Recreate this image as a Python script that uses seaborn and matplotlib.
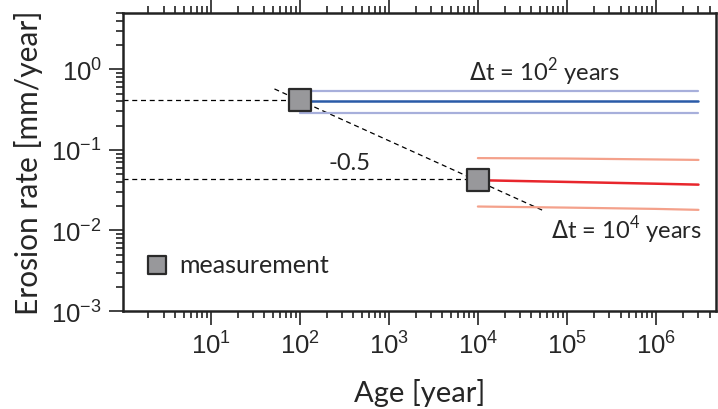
import numpy as np
import pandas as pd
import seaborn as sns
import matplotlib.pyplot as plt
from matplotlib.ticker import LogLocator, NullFormatter

# measurements
age_meas = [100, 1e4]
rate_meas = [0.41, 0.042]

# dt = 1e2 years (blue)
blue_age = [100, 3e6]
blue_mid = [0.40, 0.40]
blue_hi = [0.53, 0.53]
blue_lo = [0.29, 0.29]

# dt = 1e4 years (red)
red_age = [1e4, 1e5, 1e6, 3e6]
red_mid = [0.042, 0.040, 0.038, 0.037]
red_hi = [0.079, 0.078, 0.076, 0.075]
red_lo = [0.0198, 0.0192, 0.0185, 0.018]

# guide lines
slope_age = [52, 5.5e4]
slope_rate = [0.57, 0.0175]
hline1_age = [1.03, 100]
hline1_rate = [0.42, 0.42]
hline2_age = [1.03, 1e4]
hline2_rate = [0.043, 0.043]

sns.set_style("ticks")
plt.rcParams['font.family'] = ['Liberation Sans', 'DejaVu Sans']
plt.rcParams['axes.unicode_minus'] = False
lab_font = ['Lato', 'DejaVu Sans']

fig = plt.figure(figsize=(7.18, 4.10), dpi=100)
ax = fig.add_axes([0.171, 0.239, 0.826, 0.727])

dash = (0, (4, 3))
for xs, ys in [(hline1_age, hline1_rate), (hline2_age, hline2_rate), (slope_age, slope_rate)]:
    sns.lineplot(x=xs, y=ys, ax=ax, color='black', lw=0.9, linestyle=dash, legend=False)

light_blue = '#a7afdb'
dark_blue = '#2a5ba8'
light_red = '#f4a18b'
dark_red = '#e8262c'
sns.lineplot(x=blue_age, y=blue_hi, ax=ax, color=light_blue, lw=1.6)
sns.lineplot(x=blue_age, y=blue_lo, ax=ax, color=light_blue, lw=1.6)
sns.lineplot(x=blue_age, y=blue_mid, ax=ax, color=dark_blue, lw=1.8)
sns.lineplot(x=red_age, y=red_hi, ax=ax, color=light_red, lw=1.6)
sns.lineplot(x=red_age, y=red_lo, ax=ax, color=light_red, lw=1.6)
sns.lineplot(x=red_age, y=red_mid, ax=ax, color=dark_red, lw=1.8)

sns.scatterplot(x=age_meas, y=rate_meas, ax=ax, marker='s', s=230, color='#98989b',
                edgecolor='#2a2a2a', linewidth=1.6, zorder=5, label='measurement')

ax.set_xscale('log')
ax.set_yscale('log')
ax.set_xlim(1.03, 4.7e6)
ax.set_ylim(1e-3, 5)

ax.xaxis.set_major_locator(LogLocator(base=10, numticks=20))
ax.xaxis.set_minor_locator(LogLocator(base=10, subs=np.arange(2, 10), numticks=100))
ax.yaxis.set_minor_locator(LogLocator(base=10, subs=np.arange(2, 10), numticks=100))
ax.xaxis.set_minor_formatter(NullFormatter())
ax.yaxis.set_minor_formatter(NullFormatter())

ax.tick_params(which='both', direction='out', top=True, right=False, width=1.2, color='#222222')
ax.tick_params(which='major', length=10, labelsize=18.5, pad=5)
ax.tick_params(which='minor', length=5)
for sp in ax.spines.values():
    sp.set_linewidth(1.8)
    sp.set_color('#222222')

ax.set_xlabel('Age [year]', family=lab_font, fontsize=21, labelpad=14)
ax.set_ylabel('Erosion rate [mm/year]', family=lab_font, fontsize=21.5, labelpad=6)

ax.text(5.6e4, 0.95, '$\\Delta$t = 10$^{\\mathdefault{2}}$ years', family=lab_font, fontsize=17,
        ha='center', va='center')
ax.text(4.6e5, 0.0105, '$\\Delta$t = 10$^{\\mathdefault{4}}$ years', family=lab_font, fontsize=17,
        ha='center', va='center')
ax.text(360, 0.07, '-0.5', family=lab_font, fontsize=17, ha='center', va='center')

ax.legend(loc='lower left', bbox_to_anchor=(0.024, 0.085), frameon=False, markerscale=0.9,
          handlelength=0.8, handletextpad=0.5, borderaxespad=0.0,
          prop={'family': lab_font, 'size': 18})

fig.savefig('out.png', dpi=100)
